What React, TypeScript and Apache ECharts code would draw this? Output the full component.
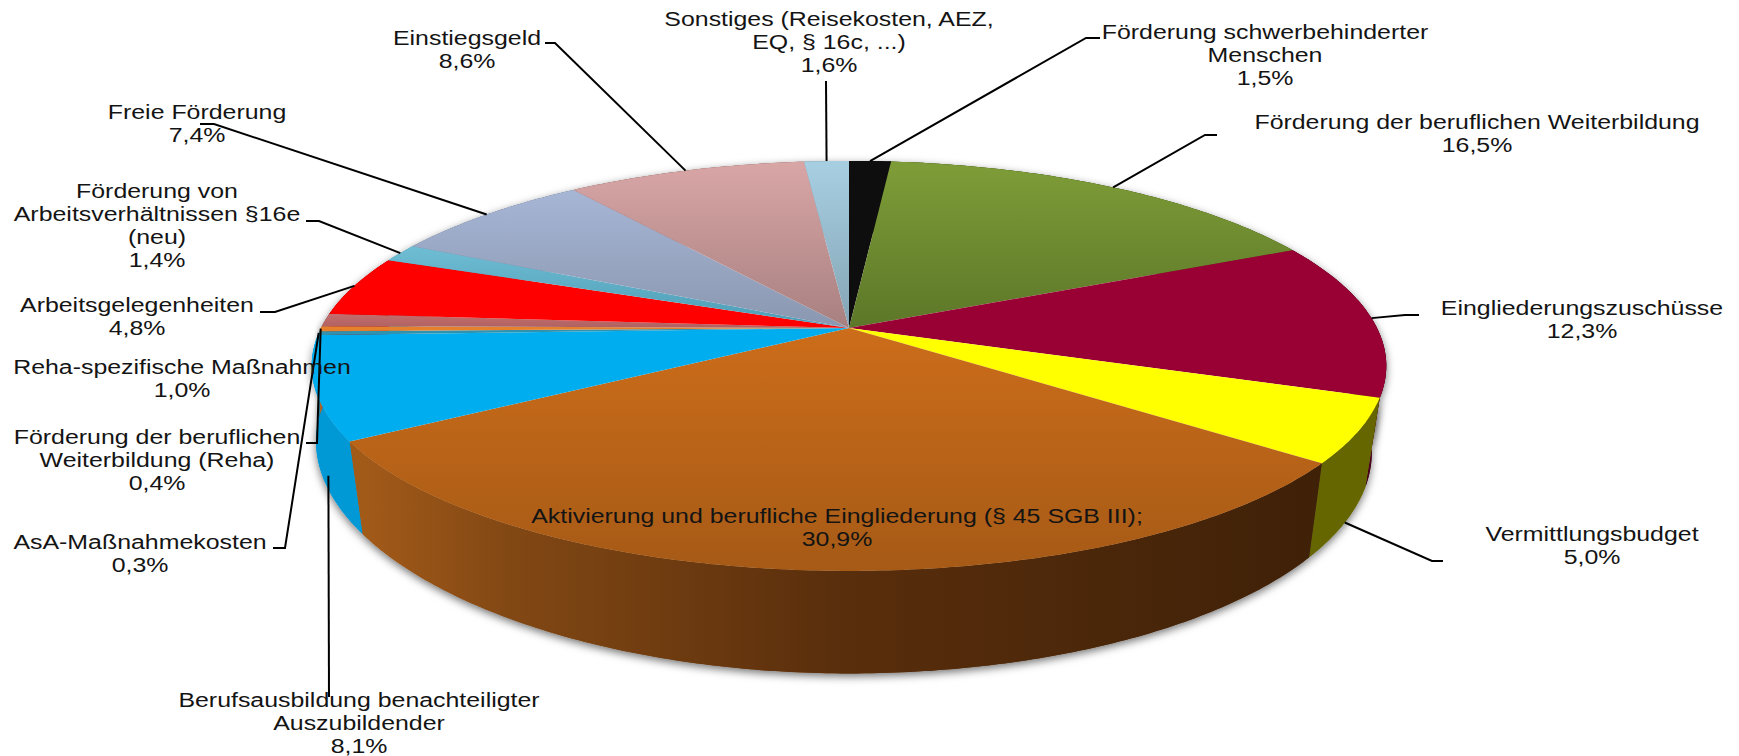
import React, { useEffect, useRef } from "react";
import * as echarts from "echarts";

const categories = [
  "Förderung schwerbehinderter\nMenschen",
  "Förderung der beruflichen Weiterbildung",
  "Eingliederungszuschüsse",
  "Vermittlungsbudget",
  "Aktivierung und berufliche Eingliederung (§ 45 SGB III);",
  "Berufsausbildung benachteiligter\nAuszubildender",
  "AsA-Maßnahmekosten",
  "Förderung der beruflichen\nWeiterbildung (Reha)",
  "Reha-spezifische Maßnahmen",
  "Arbeitsgelegenheiten",
  "Förderung von\nArbeitsverhältnissen §16e\n(neu)",
  "Freie Förderung",
  "Einstiegsgeld",
  "Sonstiges (Reisekosten, AEZ,\nEQ, § 16c, ...)",
];
const shares = [1.5, 16.5, 12.3, 5.0, 30.9, 8.1, 0.3, 0.4, 1.0, 4.8, 1.4, 7.4, 8.6, 1.6];

// Styling: top face colour stops [from, to, y0, y1] and wall colour stops [left, middle, right]
const topStyles: [string, string, number, number][] = [
  ["#0e0e0e", "#0e0e0e", 161, 328],
  ["#7d9b37", "#5c7728", 170, 328],
  ["#990033", "#990033", 161, 328],
  ["#ffff00", "#ffff00", 161, 328],
  ["#cc6d1a", "#a65a16", 328, 571],
  ["#00adef", "#00adef", 161, 328],
  ["#2f93b0", "#2f93b0", 161, 328],
  ["#e5802d", "#e5802d", 161, 328],
  ["#cc7070", "#a25c5c", 310, 335],
  ["#ff0000", "#ff0000", 161, 328],
  ["#72c0d6", "#4f9fb8", 240, 320],
  ["#aabada", "#8a97b0", 170, 328],
  ["#d9a6a6", "#a88080", 161, 328],
  ["#a7cfe2", "#84a4b4", 161, 328],
];
const wallStyles: [string, string, string][] = [
  ["#000000", "#000000", "#000000"],
  ["#4a5f1f", "#4a5f1f", "#4a5f1f"],
  ["#5a0020", "#5a0020", "#4a001a"],
  ["#6f6f00", "#6f6f00", "#666600"],
  ["#a25a19", "#592e0c", "#3f2108"],
  ["#0099d6", "#0099d6", "#0095d0"],
  ["#1f7a94", "#1f7a94", "#1f7a94"],
  ["#b36320", "#b36320", "#b36320"],
  ["#8a4c4c", "#8a4c4c", "#8a4c4c"],
  ["#b30000", "#b30000", "#b30000"],
  ["#4f9fb8", "#4f9fb8", "#4f9fb8"],
  ["#7a879e", "#7a879e", "#7a879e"],
  ["#96706f", "#96706f", "#96706f"],
  ["#7a98a8", "#7a98a8", "#7a98a8"],
];

// Label placement: label centre, and leader waypoints from the slice rim to the label
type Place = { x: number; y: number; leader: [number, number][]; onBase?: boolean; anchorDx?: number };
const placements: Place[] = [
  { x: 1265, y: 55, leader: [[1086, 38], [1100, 38]] },
  { x: 1477, y: 134, leader: [[1205, 135], [1217, 135]] },
  { x: 1582, y: 320, leader: [[1405, 315], [1419, 315]] },
  { x: 1592, y: 546, leader: [[1432, 561], [1443, 561]], onBase: true },
  { x: 837, y: 528, leader: [] },
  { x: 359, y: 723, leader: [[329, 697]], onBase: true, anchorDx: 6 },
  { x: 140, y: 554, leader: [[285, 548], [273, 548]] },
  { x: 157, y: 460, leader: [[317, 443], [306, 443]] },
  { x: 182, y: 379, leader: [] },
  { x: 137, y: 317, leader: [[275, 312], [260, 312]] },
  { x: 157, y: 226, leader: [[319, 221], [306, 221]] },
  { x: 197, y: 124, leader: [[214, 124], [200, 124]] },
  { x: 467, y: 50, leader: [[555, 43], [545, 43]] },
  { x: 829, y: 42, leader: [[826, 81]] },
];

// Perspective disc
const HUB_X = 849;
const HUB_Y = 328;
const A = 528;
const B = 198;
const K = 0.185;
const DEPTH = 83.5;
const BASE_X = 0.973;

const total = shares.reduce((s, v) => s + v, 0);
const startOf = (i: number) => shares.slice(0, i).reduce((s, v) => s + v, 0);
const theta = (v: number) => (v / total) * Math.PI * 2;

function rim(t: number): [number, number] {
  const u = Math.sin(t);
  const v = -Math.cos(t);
  const d = 1 - K * v;
  return [HUB_X + (A * u) / d, HUB_Y + (B * v) / d];
}
function baseRim(t: number): [number, number] {
  const u = Math.sin(t);
  const v = -Math.cos(t);
  const d = 1 - K * v;
  const sx = u < 0 ? 1 - 0.05 * Math.max(v, 0) : BASE_X;
  return [HUB_X + (sx * A * u) / d, HUB_Y + (B * v) / d + DEPTH / d];
}
function arc(f: (t: number) => [number, number], a: number, b: number) {
  const n = Math.max(2, Math.ceil((b - a) / 0.012));
  const pts: [number, number][] = [];
  for (let i = 0; i <= n; i++) pts.push(f(a + ((b - a) * i) / n));
  return pts;
}

const data = shares.map((v) => [v]);

function wallItem(shadow: boolean) {
  return (params: any, api: any) => {
    const i = params.dataIndex;
    const s = startOf(i);
    const a = theta(s);
    const b = theta(s + api.value(0));
    const pts = [...arc(rim, a, b), ...arc(baseRim, a, b).reverse()];
    const [l, m, r] = wallStyles[i];
    return {
      type: "polygon",
      shape: { points: pts },
      style: {
        fill: new echarts.graphic.LinearGradient(365, 0, 1320, 0, [
          { offset: 0, color: l },
          { offset: 0.15, color: l === m ? l : "#824814" },
          { offset: 0.5, color: m },
          { offset: 1, color: r },
        ], true),
        ...(shadow
          ? { shadowBlur: 9, shadowColor: "rgba(0,0,0,0.55)", shadowOffsetX: 0, shadowOffsetY: 3 }
          : {}),
      },
    };
  };
}

function topItem(params: any, api: any) {
  const i = params.dataIndex;
  const s = startOf(i);
  const a = theta(s);
  const b = theta(s + api.value(0));
  const [c0, c1, y0, y1] = topStyles[i];
  return {
    type: "polygon",
    shape: { points: [[HUB_X, HUB_Y], ...arc(rim, a, b)] },
    style: {
      fill: new echarts.graphic.LinearGradient(0, y0, 0, y1, [
        { offset: 0, color: c0 },
        { offset: 1, color: c1 },
      ], true),
    },
  };
}

function labelItem(params: any, api: any) {
  const i = params.dataIndex;
  const val = api.value(0);
  const place = placements[i];
  const mid = theta(startOf(i) + val / 2);
  const p = place.onBase ? baseRim(mid) : rim(mid);
  const anchor: [number, number] = [p[0] + (place.anchorDx ?? 0), p[1]];
  const children: any[] = [];
  if (place.leader.length) {
    children.push({
      type: "polyline",
      shape: { points: [anchor, ...place.leader] },
      style: { stroke: "#000", lineWidth: 2, fill: "none" },
    });
  }
  children.push({
    type: "text",
    x: place.x,
    y: place.y,
    scaleX: 1.245,
    style: {
      text: `${categories[i]}\n${val.toFixed(1).replace(".", ",")}%`,
      fontFamily: "'Liberation Sans', Arial, sans-serif",
      fontSize: 20,
      lineHeight: 23,
      fill: "#141414",
      align: "center",
      verticalAlign: "middle",
    },
  });
  return { type: "group", children };
}

export default function App() {
  const ref = useRef<HTMLDivElement>(null);
  useEffect(() => {
    document.body.style.margin = "0";
    const chart = echarts.init(ref.current!, undefined, { renderer: "svg" });
    const base = { type: "custom", coordinateSystem: "none", silent: true, clip: false, data };
    chart.setOption({
      animation: false,
      backgroundColor: "#ffffff",
      series: [
        { ...base, name: "shadow", z: 1, renderItem: wallItem(true) },
        { ...base, name: "walls", z: 2, renderItem: wallItem(false) },
        { ...base, name: "faces", z: 3, renderItem: topItem },
        { ...base, name: "labels", z: 4, renderItem: labelItem },
      ],
    });
    return () => chart.dispose();
  }, []);
  return <div ref={ref} style={{ width: 1739, height: 756, overflow: "hidden" }} />;
}
